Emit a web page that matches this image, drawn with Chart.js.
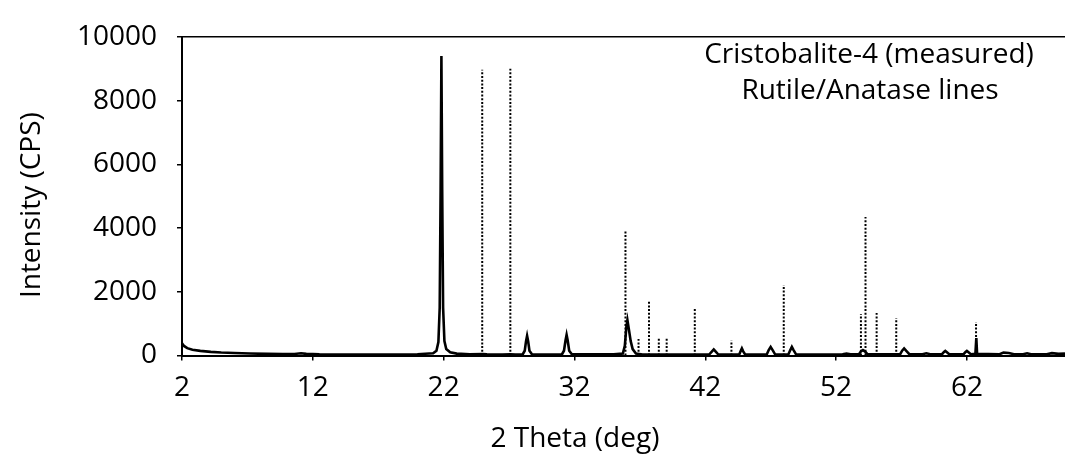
<!DOCTYPE html>
<html>
<head>
<meta charset="utf-8">
<script src="https://cdn.jsdelivr.net/npm/chart.js@4.4.1/dist/chart.umd.min.js"></script>
<style>
  html, body { margin: 0; padding: 0; background: #fff; }
  #wrap { width: 1065px; height: 458px; position: relative; }
</style>
</head>
<body>
<div id="wrap"><canvas id="c"></canvas></div>
<script>
// ---- data ----
const seriesNames = ['Cristobalite-4 (measured)', 'Rutile/Anatase lines'];

const measuredTheta = [
  2.0, 2.15, 2.4, 2.8, 3.4, 4.2, 5.0, 6.0, 7.2, 8.5, 9.7, 10.6, 11.1, 11.5, 12.5, 14, 16, 18, 20,
  20.6, 21.2, 21.45, 21.6, 21.7, 21.77, 21.83, 21.89, 21.96, 22.06, 22.2, 22.5, 23.0, 24.0,
  25.0, 25.3, 26.5, 27.1, 27.5,
  28.05, 28.2, 28.3, 28.38, 28.46, 28.56, 28.75,
  30.5, 31.05, 31.2, 31.32, 31.4, 31.48, 31.6, 31.8,
  35.0, 35.7, 35.85, 35.97, 36.05, 36.15, 36.3, 36.45, 36.7, 37.2,
  42.3, 42.5, 42.65, 42.8, 43.0,
  44.6, 44.7, 44.8, 44.9, 45.05,
  46.7, 46.85, 47.0, 47.15, 47.35,
  48.35, 48.5, 48.62, 48.75, 48.95,
  52.5, 52.8, 53.1,
  53.75, 53.9, 54.05, 54.2, 54.4,
  56.9, 57.05, 57.2, 57.35, 57.6,
  58.6, 58.9, 59.2,
  60.1, 60.25, 60.35, 60.45, 60.65,
  61.75, 61.9, 62.0, 62.1, 62.3,
  62.65, 62.72, 62.78,
  64.5, 64.8, 65.2, 65.6,
  66.3, 66.6, 66.9,
  68.1, 68.5, 69.0, 69.5
];
const measuredIntensity = [
  380, 300, 230, 180, 145, 115, 95, 80, 65, 52, 42, 45, 70, 50, 35, 30, 28, 28, 35,
  55, 70, 150, 420, 1500, 5200, 9400, 5200, 1500, 450, 200, 100, 60, 40,
  45, 35, 30, 40, 30,
  40, 150, 450, 620, 450, 150, 40,
  30, 40, 150, 480, 650, 480, 150, 40,
  35, 60, 300, 900, 1110, 850, 450, 200, 60, 30,
  30, 120, 190, 120, 30,
  30, 130, 220, 130, 30,
  30, 170, 270, 170, 30,
  30, 170, 270, 170, 30,
  35, 60, 35,
  40, 130, 170, 130, 40,
  40, 150, 220, 150, 40,
  40, 70, 40,
  40, 110, 145, 110, 40,
  40, 110, 145, 110, 40,
  50, 550, 50,
  40, 90, 80, 40,
  40, 70, 40,
  40, 75, 50, 60
];

const lineTheta     = [24.95, 27.1, 35.9, 36.9, 37.7, 38.45, 39.05, 41.2, 44.0, 48.0, 53.9, 54.25, 55.1, 56.6, 62.7];
const lineIntensity = [8970, 9000, 3890, 520, 1700, 570, 560, 1480, 470, 2210, 1300, 4345, 1330, 1180, 1055];

const xTickValues = [2, 12, 22, 32, 42, 52, 62];
const yTickValues = [0, 2000, 4000, 6000, 8000, 10000];

const xTitle = '2 Theta (deg)';
const yTitle = 'Intensity (CPS)';

// ---- build datasets from the arrays ----
const measuredData = measuredTheta.map((t, i) => ({ x: t, y: measuredIntensity[i] }));
const stickData = [];
lineTheta.forEach((t, i) => {
  stickData.push({ x: t, y: 0 });
  stickData.push({ x: t, y: lineIntensity[i] });
  stickData.push({ x: t, y: null });
});

const FONT = '"Open Sans", "Noto Sans", sans-serif';

const textPlugin = {
  id: 'textPlugin',
  afterDraw(chart) {
    const ctx = chart.ctx;
    const ca = chart.chartArea;
    ctx.save();
    ctx.fillStyle = '#000';
    ctx.font = '28px ' + FONT;
    ctx.textBaseline = 'alphabetic';
    ctx.textAlign = 'center';
    // x axis title
    ctx.fillText(xTitle, ca.left + 0.445 * (ca.right - ca.left), 447);
    // legend texts (no symbols in the reference)
    const names = chart.data.datasets.map(d => d.label);
    ctx.fillText(names[0], 869, 63);
    ctx.fillText(names[1], 870, 99);
    // y axis title
    ctx.translate(40, (ca.top + ca.bottom) / 2 + 9);
    ctx.rotate(-Math.PI / 2);
    ctx.fillText(yTitle, 0, 0);
    ctx.restore();
  }
};

new Chart(document.getElementById('c'), {
  type: 'scatter',
  data: {
    datasets: [
      {
        label: seriesNames[0],
        data: measuredData,
        showLine: true,
        borderColor: '#000',
        borderWidth: 2.6,
        pointRadius: 0,
        tension: 0,
        xAxisID: 'x', yAxisID: 'y'
      },
      {
        label: seriesNames[1],
        data: stickData,
        showLine: true,
        spanGaps: false,
        borderColor: '#000',
        borderWidth: 2,
        borderDash: [2, 1.7],
        pointRadius: 0,
        xAxisID: 'x', yAxisID: 'y'
      }
    ]
  },
  options: {
    responsive: true,
    maintainAspectRatio: false,
    animation: false,
    layout: { padding: 0 },
    plugins: {
      legend: { display: false },
      tooltip: { enabled: false },
      title: { display: false }
    },
    scales: {
      x: {
        type: 'linear',
        position: 'bottom',
        min: 2,
        max: 69.5,
        afterBuildTicks: s => { s.ticks = xTickValues.map(v => ({ value: v })); },
        afterFit: s => { s.height = 102.5; },
        ticks: {
          color: '#000',
          font: { family: FONT, size: 28 },
          padding: 11,
          maxRotation: 0,
          autoSkip: false
        },
        grid: { drawOnChartArea: false, drawTicks: true, tickLength: 5, color: '#000', lineWidth: 1.5 },
        border: { display: true, color: '#000', width: 2 }
      },
      xTop: {
        type: 'linear',
        axis: 'x',
        position: 'top',
        min: 2,
        max: 69.5,
        afterFit: s => { s.height = 26; },
        ticks: { display: false },
        grid: { drawOnChartArea: false, drawTicks: false },
        border: { display: true, color: '#000', width: 1.5 }
      },
      y: {
        type: 'linear',
        min: 0,
        max: 10000,
        afterFit: s => { s.width = 182; },
        ticks: {
          stepSize: 1000,
          color: '#000',
          font: { family: FONT, size: 28 },
          padding: 20,
          callback: v => (yTickValues.includes(v) ? String(v) : '')
        },
        grid: { drawOnChartArea: false, drawTicks: true, tickLength: 5, color: '#000', lineWidth: 1.5 },
        border: { display: true, color: '#000', width: 2 }
      }
    }
  },
  plugins: [textPlugin]
});
</script>
</body>
</html>
